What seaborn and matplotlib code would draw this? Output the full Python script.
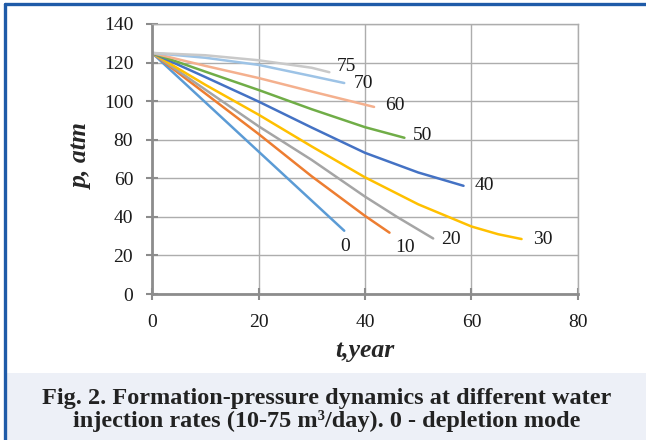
import numpy as np
import pandas as pd
import matplotlib
matplotlib.use("Agg")
import matplotlib.pyplot as plt
import seaborn as sns
from matplotlib.patches import Rectangle
from matplotlib.lines import Line2D

# ---- data ----
rates = ["0", "10", "20", "30", "40", "50", "60", "70", "75"]

t_0 = [0, 18, 36.1]
p_0 = [125, 79, 32.8]
t_10 = [0, 10, 20, 30, 40, 44.6]
p_10 = [125, 104, 83, 61, 40.5, 31.8]
t_20 = [0, 10, 20, 30, 40, 46, 52.8]
p_20 = [125, 106, 87, 69.5, 50.5, 40, 28.8]
t_30 = [0, 10, 20, 30, 40, 50, 60, 65, 69.4]
p_30 = [125, 108.5, 93, 76.5, 60.5, 46.5, 35, 31, 28.5]
t_40 = [0, 10, 20, 30, 40, 50, 58.5]
p_40 = [125, 112.5, 99.8, 86.3, 73.2, 63, 56.1]
t_50 = [0, 10, 20, 30, 40, 47.4]
p_50 = [125, 115.3, 105.8, 95.8, 86.5, 81]
t_60 = [0, 10, 20, 30, 41.7]
p_60 = [125, 118.3, 112, 105, 97]
t_70 = [0, 10, 20, 30, 36.1]
p_70 = [125, 122.5, 118.8, 113, 109.4]
t_75 = [0, 10, 20, 30, 33.3]
p_75 = [125, 123.8, 121.2, 117.3, 115]

x_ticks = [0, 20, 40, 60, 80]
y_ticks = [0, 20, 40, 60, 80, 100, 120, 140]

x_title = "t,year"
y_title = "p, atm"
caption = ("Fig. 2. Formation-pressure dynamics at different water\n"
           "injection rates (10-75 m\u00b3/day). 0 - depletion mode")

series_t = [t_0, t_10, t_20, t_30, t_40, t_50, t_60, t_70, t_75]
series_p = [p_0, p_10, p_20, p_30, p_40, p_50, p_60, p_70, p_75]

# label offsets (in points) from the end of each curve
label_dx = [1, 4, 6, 8, 8, 6, 8, 7, 5]
label_dy = [-11, -11, -1, 0, 0, 2, 1, 0, 4]

colors = ["#5B9BD5", "#ED7D31", "#A5A5A5", "#FFC000", "#4472C4",
          "#70AD47", "#F4B08E", "#9DC3E6", "#C9C9C9"]

rows = []
for r, ts, ps in zip(rates, series_t, series_p):
    for i, (tt, pp) in enumerate(zip(ts, ps)):
        rows.append({"rate": r, "t": tt, "p": pp, "order": i})
df = pd.DataFrame(rows)

sns.set_theme(style="white")
plt.rcParams["font.family"] = ["Liberation Serif", "DejaVu Serif"]

fig = plt.figure(figsize=(6.46, 4.40), dpi=100)
fig.patch.set_facecolor("white")

# caption box and blue frame
fig.patches.append(Rectangle((6 / 646, 0), 1, 67 / 440, transform=fig.transFigure,
                             facecolor="#EDF0F7", edgecolor="none", zorder=0))
fig.lines.append(Line2D([4.5 / 646, 4.5 / 646], [0, 1 - 4.5 / 440], transform=fig.transFigure,
                        color="#1F5BA8", lw=2.4))
fig.lines.append(Line2D([4.5 / 646, 1], [1 - 4.5 / 440, 1 - 4.5 / 440], transform=fig.transFigure,
                        color="#1F5BA8", lw=2.4))

ax = fig.add_axes([152 / 646, 1 - 294 / 440, 426 / 646, 270 / 440])
sns.lineplot(data=df, x="t", y="p", hue="rate", hue_order=rates,
             palette=dict(zip(rates, colors)), sort=False, estimator=None,
             units="rate", linewidth=1.8, legend=False, ax=ax)

for r, ts, ps, dx, dy in zip(rates, series_t, series_p, label_dx, label_dy):
    ax.annotate(r, xy=(ts[-1], ps[-1]), xytext=(dx, dy), textcoords="offset points",
                ha="left" if dx > 2 else "center", va="center", fontsize=14, color="#1a1a1a")

ax.set_xlim(0, 80)
ax.set_ylim(0, 140)
ax.set_xticks(x_ticks)
ax.set_yticks(y_ticks)
ax.grid(True, color="#ADADAD", lw=1.0)
ax.set_axisbelow(True)
for side in ["top", "right"]:
    ax.spines[side].set_color("#ADADAD")
    ax.spines[side].set_linewidth(1.0)
for side in ["left", "bottom"]:
    ax.spines[side].set_color("#8C8C8C")
    ax.spines[side].set_linewidth(2.0)
ax.tick_params(axis="both", which="major", direction="inout", length=9, width=1.5,
               color="#8C8C8C", labelsize=14, labelcolor="#1a1a1a",
               left=True, bottom=True)
ax.tick_params(axis="y", pad=9)
ax.tick_params(axis="x", pad=10)

ax.set_xlabel(x_title, fontsize=18.5, fontweight="bold", fontstyle="italic")
ax.set_ylabel(y_title, fontsize=18.5, fontweight="bold", fontstyle="italic")
ax.xaxis.set_label_coords(0.5, -(339 - 294) / 270)
ax.yaxis.set_label_coords(-(152 - 93) / 426, 0.51)

fig.text(0.505, 30 / 440, caption, ha="center", va="center", fontsize=17.5,
         fontweight="bold", color="#222222", linespacing=1.1)

fig.savefig("out.png", dpi=100)
